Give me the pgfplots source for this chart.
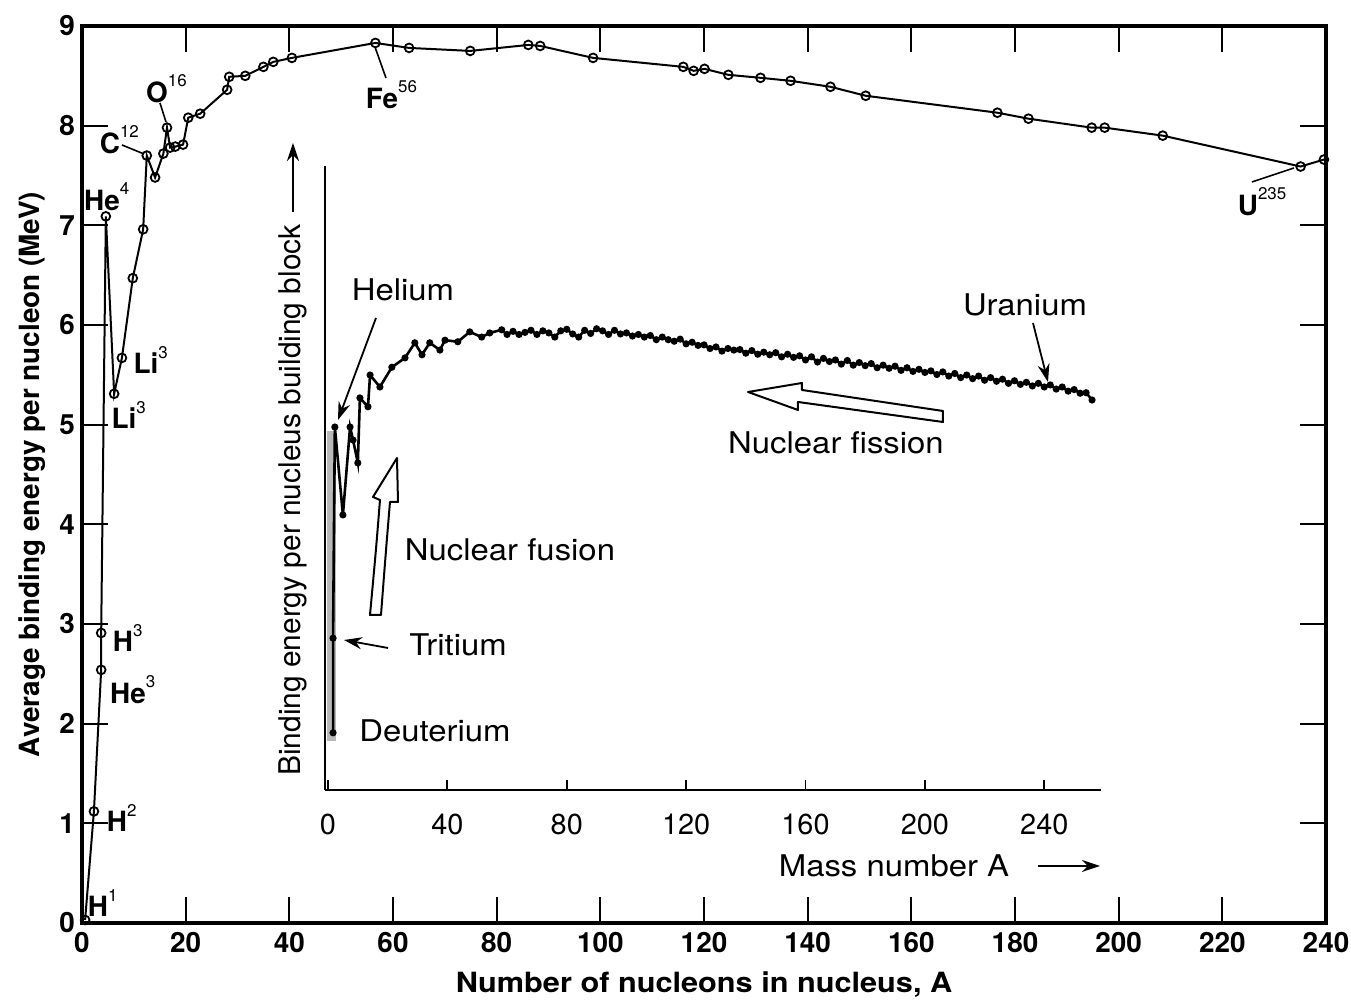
\documentclass[border=0pt]{standalone}
\usepackage{fontspec}
\setmainfont{TeX Gyre Heros}
\usepackage{pgfplots}
\pgfplotsset{compat=1.18}
\usetikzlibrary{arrows.meta}
\newcommand{\lab}[2]{#1\rlap{\raisebox{1.05ex}{\fontsize{8.5}{9}\selectfont\mdseries #2}}}
\begin{document}
\begin{tikzpicture}
\useasboundingbox (0,0) rectangle (675.5bp,501bp);
% ---------------- main axis ----------------
\begin{axis}[
  at={(41bp,39.5bp)}, anchor=south west, scale only axis,
  width=622bp, height=448.5bp,
  xmin=0, xmax=240, ymin=0, ymax=9,
  xtick={0,20,...,240}, ytick={0,1,...,9},
  tick align=inside, major tick length=13bp,
  axis line style={line width=1.6bp},
  tick style={black, line width=1.1bp},
  /pgf/number format/assume math mode=true,
  ticklabel style={font=\fontsize{14}{16}\selectfont\bfseries},
  xticklabel style={yshift=-1bp},
  xlabel={Number of nucleons in nucleus, A},
  ylabel={Average binding energy per nucleon (MeV)},
  label style={font=\fontsize{14}{16}\selectfont\bfseries},
  xlabel style={at={([yshift=-31bp]axis description cs:0.5,0)}, anchor=center, xscale=1.1},
  ylabel style={at={([xshift=-25bp]axis description cs:0,0.5)}, anchor=center},
  clip=false,
]
\addplot[black, line width=1bp, mark=o, mark size=2.2bp,
  mark options={fill=white, line width=0.9bp}] coordinates {
(0.6,0.03) (2.3,1.12) (3.7,2.54) (3.7,2.91) (4.6,7.09) (6.2,5.31) (7.7,5.67)
(9.8,6.47) (11.8,6.96) (12.5,7.70) (14.1,7.48) (15.7,7.72) (16.4,7.98)
(17.0,7.78) (18.0,7.79) (19.5,7.81) (20.5,8.08) (22.8,8.12) (28.0,8.36)
(28.4,8.49) (31.5,8.50) (35.0,8.59) (36.9,8.64) (40.5,8.68) (56.6,8.83)
(63.1,8.78) (74.9,8.75) (86.1,8.81) (88.4,8.80) (98.6,8.68) (116.0,8.59)
(118.0,8.55) (120.1,8.57) (124.7,8.51) (130.9,8.48) (136.7,8.45) (144.4,8.39)
(151.2,8.30) (176.6,8.13) (182.6,8.07) (194.8,7.98) (197.3,7.98) (208.5,7.90)
(235.1,7.59) (239.6,7.66)
};
\end{axis}
% ---------------- inset axis ----------------
\begin{axis}[
  at={(162.5bp,106bp)}, anchor=south west, scale only axis,
  width=388bp, height=312bp,
  xmin=-1, xmax=259, ymin=0, ymax=12,
  axis x line=bottom, axis y line=left,
  axis line style={-, line width=1bp},
  x axis line style={-}, y axis line style={-},
  xtick={0,40,...,240}, ytick=\empty,
  tick align=inside, major tick length=5bp,
  tick style={black, line width=0.9bp},
  /pgf/number format/assume math mode=true,
  xticklabel style={font=\fontsize{14.5}{16}\selectfont, yshift=-8.5bp},
  clip=false,
]
\addplot[gray!55, line width=4.5bp, forget plot] coordinates {(1.3,0.95) (1.3,6.9)};
\addplot[black, line width=1.3bp, mark=*, mark size=1.1bp] coordinates {
(1.7,1.10) (1.7,2.92) (2.3,6.98) (5.0,5.29) (7.4,6.98) (8.4,6.73) (10.0,6.29)
(10.7,7.54) (13.4,7.37) (14.1,7.98) (17.4,7.75) (21.4,8.13) (25.8,8.31)
(29.1,8.60) (31.5,8.37) (34.1,8.60) (37.5,8.46) (39.2,8.65) (43.5,8.62)
(47.5,8.81) (51.5,8.71) (54.2,8.79) (58.2,8.85) (60,8.76)
(62,8.82) (64,8.76) (66,8.80) (68,8.84) (70,8.76) (72,8.83) (74,8.79) (76,8.71)
(78,8.83) (80,8.86) (82,8.77) (84,8.71) (86,8.84) (88,8.78) (90,8.87) (92,8.83)
(94,8.76) (96,8.84) (98,8.77) (100,8.79) (102,8.73) (104,8.76) (106,8.71)
(108,8.74) (110,8.66) (112,8.71) (114,8.66) (116,8.63) (118,8.67) (120,8.58)
(122,8.61) (124,8.55) (126,8.56) (128,8.49) (130,8.52) (132,8.44) (134,8.49)
(136,8.46) (138,8.47) (140,8.40) (142,8.45) (144,8.38) (146,8.42) (148,8.37)
(150,8.41) (152,8.33) (154,8.38) (156,8.32) (158,8.35) (160,8.27) (162,8.33)
(164,8.23) (166,8.30) (168,8.24) (170,8.27) (172,8.19) (174,8.26) (176,8.17)
(178,8.22) (180,8.16) (182,8.20) (184,8.12) (186,8.17) (188,8.11) (190,8.15)
(192,8.07) (194,8.12) (196,8.05) (198,8.09) (200,8.03) (202,8.06) (204,7.99)
(206,8.04) (208,7.96) (210,8.01) (212,7.93) (214,7.98) (216,7.91) (218,7.96)
(220,7.88) (222,7.93) (224,7.86) (226,7.90) (228,7.82) (230,7.87) (232,7.80)
(234,7.84) (236,7.77) (238,7.82) (240,7.75) (242,7.79) (244,7.71) (246,7.75)
(248,7.67) (250,7.70) (252,7.63) (254,7.64) (256,7.50)
};
\end{axis}
% ---------------- annotations (pixel coordinates) ----------------
\begin{scope}[x=0.5bp, y=-0.5bp, shift={(0bp,501bp)}]
\tikzset{mlab/.style={font=\fontsize{14}{16}\selectfont\bfseries, inner sep=0pt, anchor=center},
         ilab/.style={font=\fontsize{15}{17}\selectfont, inner sep=0pt, anchor=center, xscale=1.1}}
\node[mlab] at (98,903) {\lab{H}{1}};
\node[mlab] at (117,818) {\lab{H}{2}};
\node[mlab] at (123,638) {\lab{H}{3}};
\node[mlab] at (128,690) {\lab{He}{3}};
\node[mlab] at (146,360) {\lab{Li}{3}};
\node[mlab] at (124,415) {\lab{Li}{3}};
\node[mlab] at (102,197) {\lab{He}{4}};
\node[mlab] at (110,140) {\lab{C}{12}};
\node[mlab] at (157,89) {\lab{O}{16}};
\node[mlab] at (382,95) {\lab{Fe}{56}};
\node[mlab] at (1248,202) {\lab{U}{235}};
\draw[line width=0.8bp] (122,145) -- (144,154);
\draw[line width=0.8bp] (160,103) -- (166,122);
\draw[line width=0.8bp] (375,47) -- (386,78);
\draw[line width=0.8bp] (1252,182) -- (1294,168);
% inset texts
\node[ilab] at (403,290) {Helium};
\node[ilab] at (1025,305) {Uranium};
\node[ilab] at (836,443) {Nuclear fission};
\node[ilab] at (510,550) {Nuclear fusion};
\node[ilab] at (458,645) {Tritium};
\node[ilab] at (435,731) {Deuterium};
\node[ilab] at (894,866) {Mass number A};
\node[font=\fontsize{15}{17}\selectfont, inner sep=0pt, rotate=90] at (293,500) {Binding energy per nucleus building block};
\draw[line width=0.9bp, -{Stealth[length=9bp,width=6bp]}] (293,212) -- (293,143);
\draw[line width=0.9bp, -{Stealth[length=9bp,width=6bp]}] (1038,866) -- (1100,866);
\draw[line width=0.9bp, -{Stealth[length=9bp,width=6bp]}] (376,318) -- (338,420);
\draw[line width=0.9bp, -{Stealth[length=9bp,width=6bp]}] (388,648) -- (344,640);
\draw[line width=0.9bp, -{Stealth[length=9bp,width=6bp]}] (1033,323) -- (1048,382);
% hollow arrows
\draw[line width=1bp, fill=white, line join=round] (748,392) -- (802,383) -- (802,390) -- (943,411) -- (943,422) -- (798,402) -- (798,410) -- cycle;
\draw[line width=1bp, fill=white, line join=round] (397,458) -- (373,497) -- (380,500) .. controls (376,550) .. (370,615) -- (381,615) .. controls (386,550) .. (390,502) -- (398,502) -- cycle;
\end{scope}
\end{tikzpicture}
\end{document}
